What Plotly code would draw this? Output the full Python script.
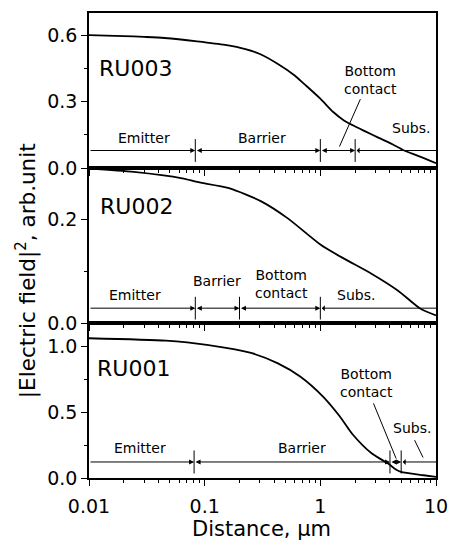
import math
import plotly.graph_objects as go
from plotly.subplots import make_subplots

# |E|^2 profiles versus depth for the three structures
dist_ru003 = [0.01, 0.02, 0.03, 0.045, 0.086, 0.15, 0.225, 0.3, 0.43, 0.6, 0.72, 1.0,
              1.285, 1.6, 1.89, 2.5, 3.17, 4.2, 5.3, 7.0, 10.0]
field_ru003 = [0.600, 0.596, 0.592, 0.587, 0.572, 0.556, 0.537, 0.515, 0.470, 0.418, 0.381,
               0.313, 0.254, 0.215, 0.194, 0.163, 0.137, 0.107, 0.079, 0.055, 0.022]

dist_ru002 = [0.01, 0.0244, 0.064, 0.086, 0.162, 0.311, 0.52, 1.0, 1.56, 2.79, 4.67, 7.35, 10.0]
field_ru002 = [0.299, 0.2925, 0.280, 0.273, 0.261, 0.235, 0.203, 0.152, 0.126, 0.095,
               0.063, 0.0276, 0.0148]

dist_ru001 = [0.01, 0.0461, 0.0706, 0.153, 0.256, 0.43, 0.674, 1.06, 1.47, 1.89, 2.79,
              3.85, 4.5, 4.98, 7.8, 10.0]
field_ru001 = [1.064, 1.046, 1.032, 0.990, 0.950, 0.873, 0.771, 0.618, 0.470, 0.335,
               0.186, 0.110, 0.065, 0.046, 0.021, 0.008]

# layer boundaries (µm) and the height of the marker line in each panel
bounds_ru003 = [0.01, 0.083, 1.0, 2.0, 10.0]
bounds_ru002 = [0.01, 0.083, 0.2, 1.0, 10.0]
bounds_ru001 = [0.01, 0.081, 4.0, 5.0, 10.0]
layer_y = [0.079, 0.0287, 0.122]
mark_half = [0.0515, 0.022, 0.0878]

sample_names = ["RU003", "RU002", "RU001"]
sample_pos = [(0.025, 0.448), (0.0256, 0.2255), (0.0244, 0.835)]

# layer labels: (text, x, y) per panel
labels_ru003 = [("Emitter", 0.030, 0.137), ("Barrier", 0.31, 0.137),
                ("Bottom<br>contact", 2.74, 0.397), ("Subs.", 6.05, 0.179)]
labels_ru002 = [("Emitter", 0.025, 0.054), ("Barrier", 0.128, 0.082),
                ("Bottom<br>contact", 0.46, 0.0747), ("Subs.", 2.02, 0.055)]
labels_ru001 = [("Emitter", 0.0277, 0.232), ("Barrier", 0.696, 0.232),
                ("Bottom<br>contact", 2.53, 0.72), ("Subs.", 6.24, 0.377)]

# leader lines from labels to thin layers: (row, x0, y0, x1, y1)
leaders = [(1, 1.464, 0.097, 2.22, 0.311),
           (3, 2.88, 0.568, 4.52, 0.148),
           (3, 6.53, 0.288, 7.73, 0.156)]

y_ranges = [[0, 0.7], [0, 0.3], [0, 1.18]]
y_major = [[0.0, 0.3, 0.6], [0.0, 0.2], [0.0, 0.5, 1.0]]
y_minor = [[0.15, 0.45], [0.1], [0.25, 0.75]]

x_major = [0.01, 0.1, 1, 10]
x_minor = [m * 10.0 ** e for e in (-2, -1, 0) for m in range(2, 10)]

FONT = "DejaVu Sans"

fig = make_subplots(rows=3, cols=1, shared_xaxes=True, vertical_spacing=0)

curves = [(dist_ru003, field_ru003), (dist_ru002, field_ru002), (dist_ru001, field_ru001)]
for i, (xs, ys) in enumerate(curves):
    fig.add_trace(go.Scatter(x=xs, y=ys, mode="lines",
                             line=dict(color="black", width=1.8, shape="spline", smoothing=0.7),
                             showlegend=False, hoverinfo="skip"), row=i + 1, col=1)

all_bounds = [bounds_ru003, bounds_ru002, bounds_ru001]
all_labels = [labels_ru003, labels_ru002, labels_ru001]
annotations = []

for i in range(3):
    row = i + 1
    xr = "x" if row == 1 else f"x{row}"
    yr = "y" if row == 1 else f"y{row}"
    b = all_bounds[i]
    y = layer_y[i]
    # vertical boundary marks
    vx, vy = [], []
    for xb in b[1:-1]:
        vx += [xb, xb, None]
        vy += [y - mark_half[i], y + mark_half[i], None]
    fig.add_trace(go.Scatter(x=vx, y=vy, mode="lines", line=dict(color="black", width=1),
                             showlegend=False, hoverinfo="skip"), row=row, col=1)
    # layer spans with arrowheads at the inner boundaries
    for k in range(len(b) - 1):
        x0, x1 = b[k], b[k + 1]
        head_start = k > 0
        head_end = k < len(b) - 2
        if head_start and head_end:
            side = "end+start"
        elif head_end:
            side = "end"
        else:
            side = "start"
        annotations.append(dict(
            x=math.log10(x1), y=y, ax=math.log10(x0), ay=y,
            xref=xr, yref=yr, axref=xr, ayref=yr, text="",
            showarrow=True, arrowhead=2, arrowsize=1, arrowwidth=1,
            arrowcolor="black", arrowside=side, standoff=0, startstandoff=0))
    for txt, lx, ly in all_labels[i]:
        annotations.append(dict(x=math.log10(lx), y=ly, xref=xr, yref=yr, text=txt,
                                showarrow=False, font=dict(family=FONT, size=14, color="black"),
                                xanchor="center", yanchor="middle"))
    nx, ny = sample_pos[i]
    annotations.append(dict(x=math.log10(nx), y=ny, xref=xr, yref=yr, text=sample_names[i],
                            showarrow=False, font=dict(family=FONT, size=22, color="black"),
                            xanchor="center", yanchor="middle"))

for row, x0, y0, x1, y1 in leaders:
    fig.add_trace(go.Scatter(x=[x0, x1], y=[y0, y1], mode="lines",
                             line=dict(color="black", width=1),
                             showlegend=False, hoverinfo="skip"), row=row, col=1)

# axis titles
annotations.append(dict(x=-0.18, y=0.446, xref="paper", yref="paper",
                        text="|Electric field|<sup>2</sup>, arb.unit", textangle=-90,
                        showarrow=False, font=dict(family=FONT, size=21.5, color="black"),
                        xanchor="center", yanchor="middle"))
annotations.append(dict(x=0.498, y=-0.11, xref="paper", yref="paper",
                        text="Distance, µm", showarrow=False,
                        font=dict(family=FONT, size=21, color="black"),
                        xanchor="center", yanchor="middle"))

for i in range(3):
    row = i + 1
    fig.update_xaxes(type="log", range=[-2, 1], showgrid=False, zeroline=False,
                     showline=True, linecolor="black", linewidth=1.5, mirror=True,
                     ticks="outside", ticklen=6, tickwidth=1.2, tickcolor="black",
                     tickmode="array", tickvals=x_major, ticktext=["0.01", "0.1", "1", "10"],
                     minor=dict(tickmode="array", tickvals=x_minor, ticks="outside",
                                ticklen=3, tickwidth=1, tickcolor="black", showgrid=False),
                     showticklabels=(row == 3), ticklabelstandoff=4,
                     tickfont=dict(family=FONT, size=19, color="black"),
                     row=row, col=1)
    fig.update_yaxes(range=y_ranges[i], showgrid=False, zeroline=False,
                     showline=True, linecolor="black", linewidth=1.5, mirror=True,
                     ticks="outside", ticklen=6, tickwidth=1.2, tickcolor="black",
                     tickmode="array", tickvals=y_major[i],
                     ticktext=[f"{v:.1f}" for v in y_major[i]],
                     minor=dict(tickmode="array", tickvals=y_minor[i], ticks="outside",
                                ticklen=3, tickwidth=1, tickcolor="black", showgrid=False),
                     tickfont=dict(family=FONT, size=19, color="black"),
                     row=row, col=1)

fig.update_layout(width=459, height=550, margin=dict(l=89, r=12, t=11, b=72),
                  plot_bgcolor="white", paper_bgcolor="white",
                  annotations=annotations, showlegend=False)

fig.write_html("out.html")
